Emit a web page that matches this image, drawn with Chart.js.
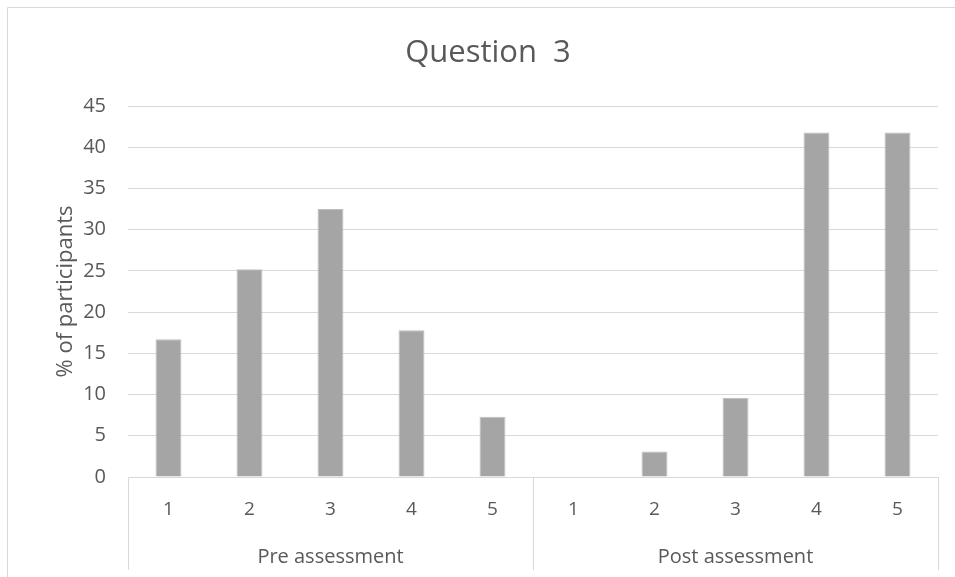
<!DOCTYPE html>
<html>
<head>
<meta charset="utf-8">
<script src="https://cdn.jsdelivr.net/npm/chart.js@4"></script>
<style>
    body { margin: 0; background: #ffffff; }
    #wrap { width: 955px; height: 577px; position: relative; }
</style>
</head>
<body>
<div id="wrap"><canvas id="chart"></canvas></div>
<script>
const chartTitle = "Question  3";
const yTitle = "% of participants";
const groups = ["Pre assessment", "Post assessment"];
const ratings = ["1", "2", "3", "4", "5"];
const preValues = [16.7, 25.2, 32.5, 17.8, 7.3];
const postValues = [0, 3.1, 9.6, 41.8, 41.8];
const yMax = 45;
const yStep = 5;

const textColor = "#595959";
const lineColor = "#d9d9d9";
const fontFamily = "'Open Sans', 'Noto Sans', sans-serif";

// chart frame, title (centred on the full Excel chart, which is cropped here)
// and the two-level category axis
const groupAxis = {
    id: "groupAxis",
    beforeDraw(chart) {
        const ctx = chart.ctx;
        ctx.save();
        ctx.strokeStyle = lineColor;
        ctx.lineWidth = 1;
        ctx.beginPath();
        ctx.moveTo(7.5, chart.height);
        ctx.lineTo(7.5, 7.5);
        ctx.lineTo(chart.width, 7.5);
        ctx.stroke();

        ctx.fillStyle = textColor;
        ctx.font = "31px " + fontFamily;
        ctx.textAlign = "center";
        ctx.textBaseline = "alphabetic";
        ctx.fillText(chartTitle, 488, 62);
        ctx.restore();
    },
    afterDraw(chart) {
        const ctx = chart.ctx;
        const x = chart.scales.x;
        const bottom = chart.chartArea.bottom;
        const step = x.width / x.ticks.length;
        ctx.save();
        ctx.strokeStyle = lineColor;
        ctx.lineWidth = 1;
        ctx.fillStyle = textColor;
        ctx.font = "20px " + fontFamily;
        ctx.textAlign = "center";
        ctx.textBaseline = "alphabetic";
        groups.forEach((g, gi) => {
            const first = gi * ratings.length;
            const last = first + ratings.length - 1;
            const left = x.getPixelForValue(first) - step / 2;
            const right = x.getPixelForValue(last) + step / 2;
            ctx.beginPath();
            ctx.moveTo(Math.round(left) + 0.5, bottom);
            ctx.lineTo(Math.round(left) + 0.5, bottom + 93);
            ctx.moveTo(Math.round(right) + 0.5, bottom);
            ctx.lineTo(Math.round(right) + 0.5, bottom + 93);
            ctx.stroke();
            ctx.fillText(g, (left + right) / 2, bottom + 86);
        });
        ctx.restore();
    }
};

const ctx = document.getElementById("chart").getContext("2d");

new Chart(ctx, {
    type: "bar",
    data: {
        labels: ratings.concat(ratings),
        datasets: [
            {
                label: yTitle,
                data: preValues.concat(postValues),
                backgroundColor: "#a5a5a5",
                borderColor: "#bdbdbd",
                borderWidth: 1,
                barPercentage: 0.32,
                categoryPercentage: 1.0
            }
        ]
    },
    options: {
        responsive: true,
        maintainAspectRatio: false,
        animation: false,
        layout: {
            padding: { left: 0, right: 17, top: 106, bottom: 0 }
        },
        scales: {
            x: {
                grid: { display: false, drawTicks: false },
                border: { display: true, color: lineColor },
                ticks: {
                    color: textColor,
                    font: { family: fontFamily, size: 19 },
                    padding: 21
                },
                afterFit: function (scale) {
                    scale.height = 100;
                }
            },
            y: {
                min: 0,
                max: yMax,
                grid: { color: lineColor, drawTicks: false },
                border: { display: false },
                ticks: {
                    stepSize: yStep,
                    color: textColor,
                    font: { family: fontFamily, size: 20 },
                    padding: 22
                },
                title: {
                    display: true,
                    text: yTitle,
                    color: textColor,
                    font: { family: fontFamily, size: 22 },
                    padding: { top: 53, bottom: 0 }
                },
                afterFit: function (scale) {
                    scale.width = 128;
                }
            }
        },
        plugins: {
            legend: { display: false },
            title: { display: false }
        }
    },
    plugins: [groupAxis]
});
</script>
</body>
</html>
